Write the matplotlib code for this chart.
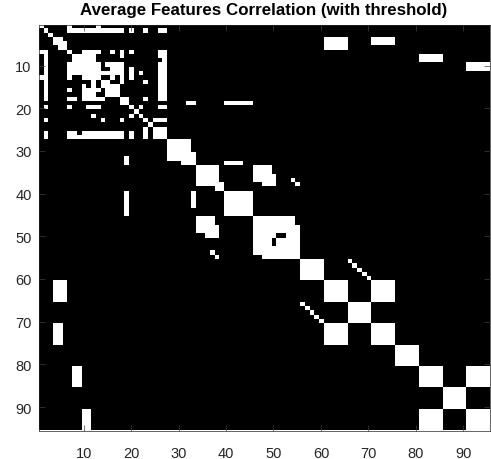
import numpy as np
import matplotlib
matplotlib.use('Agg')
import matplotlib.pyplot as plt

plt.rcParams['font.family'] = ['Liberation Sans', 'DejaVu Sans']

n_features = 95
ticks = [10, 20, 30, 40, 50, 60, 70, 80, 90]

# first 27 features, read row by row (1-based columns that pass the threshold)
corner_rows = {
    1: [1, 7, 13],
    2: [2, *range(7, 19), 20, 23, 26, 27],
    3: [3],
    4: [4, 5],
    5: [4, 5, 6],
    6: [5, 6],
    7: [1, 2, 7, 10, 11, 12, 13, 16, 18, 20, 26, 27],
    8: [2, 8, 9, 10, 11, 12, 18, 26, 27],
    9: [2, 8, 9, 10, 11, 12, 27],
    10: [2, *range(7, 14), 15, 16, 17, 18, 26, 27],
    11: [2, *range(7, 14), 16, 17, 18, 20, 26, 27],
    12: [2, *range(7, 19), 20, 22, 26, 27],
    13: [1, 2, 7, 10, 11, 12, 13, 16, 18, 20, 26, 27],
    14: [2, 12, 14, 15, 18, 23, 26, 27],
    15: [2, 10, 12, 14, 15, 16, 17, 26, 27],
    16: [2, 7, 10, 11, 12, 13, 15, 16, 17, 26, 27],
    17: [2, 10, 11, 12, 15, 16, 17, 26, 27],
    18: [2, 7, 8, 10, 11, 12, 13, 14, 18, 19, 23, 26, 27],
    19: [18, 19],
    20: [2, 7, 11, 12, 13, 20, 22, 26, 27],
    21: [21],
    22: [12, 20, 22],
    23: [2, 14, 18, 23, 25, 26, 27],
    24: [24],
    25: [23, 25, 26, 27],
    26: [2, 7, 8, *range(10, 19), 20, 23, 25, 26, 27],
    27: [2, *range(7, 19), 20, 23, 25, 26, 27],
}

# rest of the matrix as (first row, last row, first col, last col), mirrored later
blocks = [
    (4, 6, 61, 65), (4, 5, 71, 75), (8, 9, 81, 85), (10, 11, 91, 95),
    (19, 19, 32, 33), (19, 19, 40, 45),
    (28, 30, 28, 32), (31, 32, 28, 33), (33, 33, 31, 33), (33, 33, 40, 43),
    (34, 37, 34, 38), (38, 38, 34, 39), (39, 39, 38, 39),
    (34, 35, 46, 49), (36, 37, 46, 50), (38, 38, 48, 50),
    (37, 37, 54, 54), (38, 38, 55, 55),
    (40, 45, 40, 45),
    (46, 47, 46, 54), (48, 54, 46, 55), (55, 55, 48, 55),
    (56, 60, 56, 60), (61, 65, 61, 65), (66, 70, 66, 70), (71, 75, 71, 75),
    (61, 65, 71, 75), (76, 80, 76, 80),
    (81, 85, 81, 85), (86, 90, 86, 90), (91, 95, 91, 95), (81, 85, 91, 95),
    (56, 56, 66, 66), (57, 57, 67, 67), (58, 58, 68, 68), (59, 59, 69, 69), (60, 60, 70, 70),
]

# cells that are off inside the big block around feature 50
holes = [(50, 51), (50, 52), (51, 50), (52, 50)]

corr = np.zeros((n_features, n_features))
for row, cols in corner_rows.items():
    for col in cols:
        corr[row - 1, col - 1] = 1
for r0, r1, c0, c1 in blocks:
    corr[r0 - 1:r1, c0 - 1:c1] = 1
    corr[c0 - 1:c1, r0 - 1:r1] = 1
for r, c in holes:
    corr[r - 1, c - 1] = 0

fig = plt.figure(figsize=(4.91, 4.60), dpi=100)
ax = fig.add_axes([38.5 / 491, (460 - 431.5) / 460, 451 / 491, 405.5 / 460])
ax.imshow(corr, cmap='gray', vmin=0, vmax=1, aspect='auto', interpolation='nearest',
          extent=(0.5, n_features + 0.5, n_features + 0.5, 0.5))
ax.set_xticks(ticks)
ax.set_yticks(ticks)
ax.tick_params(direction='in', length=4, width=0.5, color='#404040', labelcolor='#262626',
               labelsize=10.5, top=True, right=True)
ax.tick_params(axis='x', pad=11)
ax.tick_params(axis='y', pad=5)
for spine in ax.spines.values():
    spine.set_linewidth(0.5)
    spine.set_color('#262626')
ax.set_title('Average Features Correlation (with threshold)', fontsize=12.2,
             fontweight='bold', color='black', pad=8)
fig.savefig('out.png', dpi=100)
